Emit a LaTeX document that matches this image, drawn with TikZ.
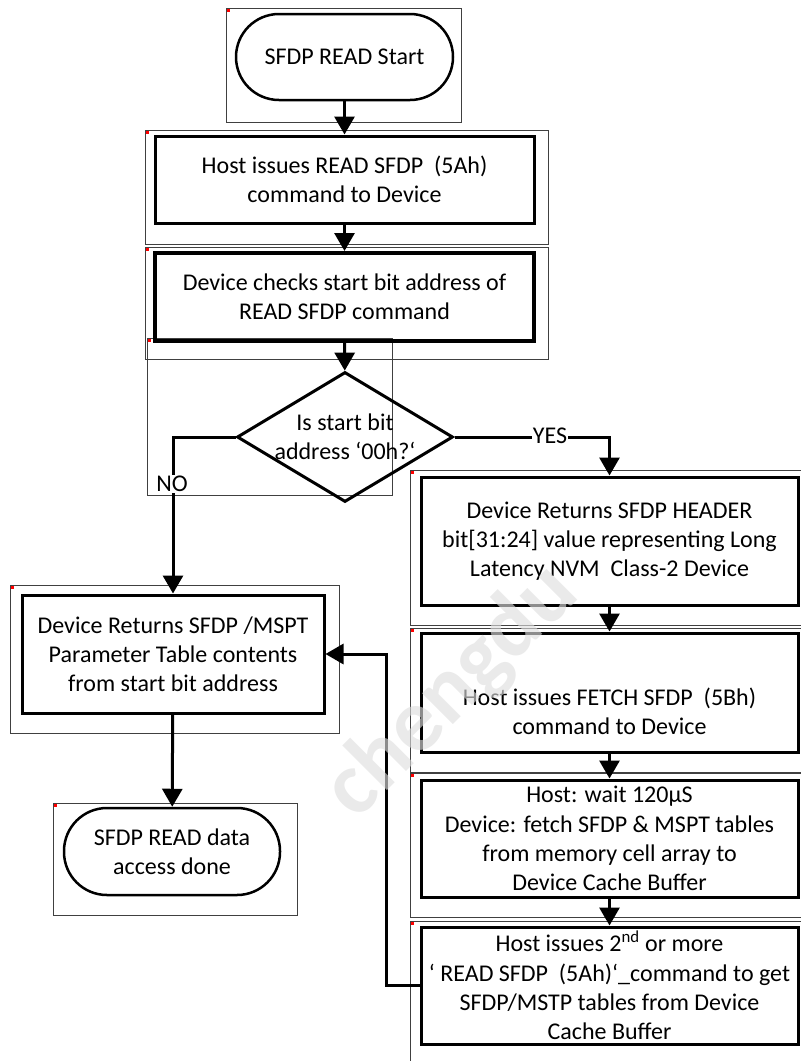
\documentclass[tikz,border=0pt]{standalone}
\usepackage{fontspec}
\setmainfont{Carlito}
\usetikzlibrary{arrows.meta,shapes.geometric,positioning}

\begin{document}
\begin{tikzpicture}[x=1pt,y=-1pt]
                    \tikzstyle{every node}+=[inner sep=0pt, font=\fontsize{24}{29.2}\selectfont]
                    \tikzstyle{frame}=[draw=black!75, line width=0.8pt]
                    \tikzstyle{stepbox}=[draw, rectangle, line width=3pt, align=center, minimum width=377pt]
                    \tikzstyle{term}=[draw, rectangle, rounded corners=43pt, line width=2.5pt, align=center]
                    \tikzstyle{decision}=[draw, diamond, line width=3pt, minimum width=216pt, minimum height=130pt]
                    \tikzstyle{flow}=[line width=3pt, -{Triangle[length=18pt,width=20pt]}]
                    \tikzstyle{tag}=[fill=white, inner sep=1pt]
                    \useasboundingbox (0,0) rectangle (801,1061);
                    \draw [frame] (226,8) rectangle (461,122);
                    \draw [frame] (145,130) rectangle (548,244);
                    \draw [frame] (145,247) rectangle (548,359);
                    \draw [frame] (147,338) rectangle (392,495);
                    \draw [frame] (410,470) rectangle (801,625);
                    \draw [frame] (410,628) rectangle (801,772);
                    \draw [frame] (410,773) rectangle (801,917);
                    \draw [frame] (410,921) rectangle (801,1062);
                    \draw [frame] (10,585) rectangle (339,733);
                    \draw [frame] (53,803) rectangle (297,915);
                    \foreach \x/\y in {226/8,145/130,145/247,147/338,410/470,410/628,410/773,410/921,10/585,53/803}
                      \fill [red] (\x+1,\y+1) rectangle ++(3,3);
                    \node [term, minimum width=217pt, minimum height=86pt] (start) at (344.5,57) {SFDP READ Start};
                    \node [stepbox, minimum width=379pt, minimum height=87pt] (issue) at (344.5,179.5) {Host issues READ SFDP\ \ (5Ah)\\command to Device};
                    \node [stepbox, line width=4pt, minimum width=379pt, minimum height=88pt] (check) at (344.5,297) {Device checks start bit address of\\READ SFDP command};
                    \node [decision, label={[align=center]center:Is start bit\\address ‘00h?‘}] (ask) at (345,437) {};
                    \node [stepbox, minimum height=128pt] (header) at (609.5,541) {Device Returns SFDP HEADER\\bit[31:24] value representing Long\\Latency NVM\ \ Class-2 Device};
                    \node [stepbox, minimum height=119pt, label={[align=center, yshift=-19pt]center:Host issues FETCH SFDP\ \ (5Bh)\\command to Device}] (fetch) at (609.5,692.5) {};
                    \node [stepbox, minimum height=117pt] (wait) at (609.5,838.5) {Host: wait 120µS\\Device: fetch SFDP \& MSPT tables\\from memory cell array to\\Device Cache Buffer};
                    \node [stepbox, minimum height=117pt] (again) at (609.5,985.5) {Host issues 2\textsuperscript{nd} or more\\‘ READ SFDP\ \ (5Ah)‘\_command to get\\SFDP/MSTP tables from Device\\Cache Buffer};
                    \node [stepbox, minimum width=302pt, minimum height=118pt] (back) at (173,654) {Device Returns SFDP /MSPT\\Parameter Table contents\\from start bit address};
                    \node [term, minimum width=216pt, minimum height=87pt] (done) at (172,851.5) {SFDP READ data\\access done};
                    \draw [flow] (start) -- (issue);
                    \draw [flow] (issue) -- (check);
                    \draw [flow] (check) -- (ask);
                    \draw [flow] (ask.west) -| (back.north);
                    \draw [flow] (ask.east) -| (header.north);
                    \draw [flow] (header) -- (fetch);
                    \draw [flow] (fetch) -- (wait);
                    \draw [flow] (wait) -- (again);
                    \draw [flow] (again.west) -- ++(-33,0) |- (back.east);
                    \draw [flow] (back) -- (done);
                    \node [tag] (no) at (172,484) {NO};
                    \node [tag] (yes) at (550,436) {YES};
                    \node [rotate=45, text=black!13, opacity=0.63, font=\fontsize{90}{90}\selectfont\bfseries] (mark) at (452,692) {chengdu};
                \end{tikzpicture}
\end{document}
